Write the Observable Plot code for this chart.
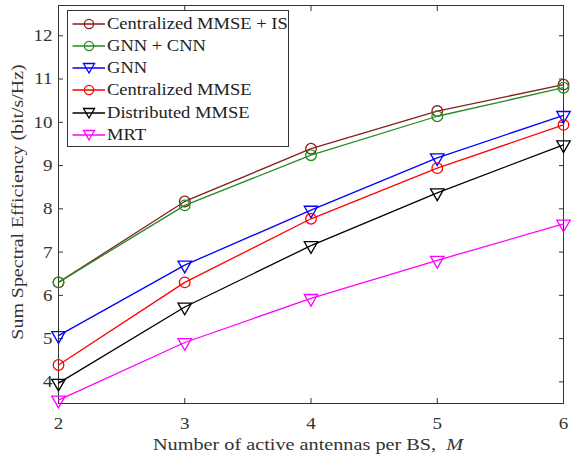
<!DOCTYPE html>
<html><head><meta charset="utf-8">
<script src="https://cdn.jsdelivr.net/npm/d3@7"></script>
<script src="https://cdn.jsdelivr.net/npm/@observablehq/plot@0.6"></script>
<style>
body{margin:0;background:#fff;font-family:"Liberation Serif","Times New Roman",serif;}
#wrap{position:relative;width:574px;height:456px;}
#legend{position:absolute;left:67px;top:10px;width:222px;height:137px;border:1px solid #333;background:#fff;box-sizing:border-box;}
.ent{position:absolute;left:0;height:22px;display:flex;align-items:center;font-size:17px;color:#222;white-space:nowrap;}
.ent span{display:inline-block;transform:scaleX(1.09);transform-origin:left center;}
.lab{position:absolute;font-size:17px;color:#333;white-space:nowrap;line-height:1;}
</style></head>
<body><div id="wrap"></div>
<script>
const antennas = [2, 3, 4, 5, 6];
const seriesNames = ["Centralized MMSE + IS", "GNN + CNN", "GNN", "Centralized MMSE", "Distributed MMSE", "MRT"];
const seriesColors = ["#851e1e", "#228b22", "#0000ff", "#ff0000", "#000000", "#ff00ff"];
const seriesSymbols = ["circle", "circle", "triangle", "circle", "triangle", "triangle"];
const mmseIS = [6.30, 8.17, 9.39, 10.26, 10.87];
const gnnCnn = [6.30, 8.08, 9.24, 10.14, 10.80];
const gnn = [5.07, 6.70, 7.97, 9.18, 10.16];
const centralMmse = [4.39, 6.30, 7.77, 8.94, 9.94];
const distMmse = [3.97, 5.73, 7.15, 8.37, 9.48];
const mrt = [3.58, 4.91, 5.93, 6.81, 7.65];
const yTicks = [4, 5, 6, 7, 8, 9, 10, 11, 12];
const xTicks = [2, 3, 4, 5, 6];

const allSeries = [mmseIS, gnnCnn, gnn, centralMmse, distMmse, mrt];
const rows = [];
allSeries.forEach((vals, si) => vals.forEach((v, i) => rows.push({series: seriesNames[si], M: antennas[i], se: v, si})));

const font = '"Liberation Serif","Times New Roman",serif';
const marks = [
  Plot.frame({stroke: "#333", strokeWidth: 1}),
  Plot.axisY(yTicks, {anchor: "left", tickSize: -5, tickPadding: 11, fontSize: 17, stroke: "#333", color: "#333", label: null, tickFormat: d => String(d)}),
  Plot.axisY(yTicks, {anchor: "right", tickSize: -5, tickFormat: () => "", stroke: "#333", label: null}),
  Plot.axisX(xTicks, {anchor: "bottom", tickSize: -5, tickPadding: 18, fontSize: 17, stroke: "#333", color: "#333", label: null, tickFormat: d => String(d)}),
  Plot.axisX(xTicks, {anchor: "top", tickSize: -5, tickFormat: () => "", stroke: "#333", label: null})
];
seriesNames.forEach((name, si) => {
  const d = rows.filter(r => r.si === si);
  marks.push(Plot.line(d, {x: "M", y: "se", stroke: seriesColors[si], strokeWidth: 1.3}));
  if (seriesSymbols[si] === "circle") {
    marks.push(Plot.dot(d, {x: "M", y: "se", r: 5.3, stroke: seriesColors[si], strokeWidth: 1.3, fill: "none"}));
  } else {
    marks.push(Plot.dot(d, {x: "M", y: "se", r: 5, symbol: "triangle", rotate: 180, stroke: seriesColors[si], strokeWidth: 1.3, fill: "none"}));
  }
});

const chart = Plot.plot({
  width: 574, height: 456,
  marginLeft: 58, marginRight: 11, marginTop: 5, marginBottom: 53,
  style: {fontFamily: font, background: "#fff"},
  x: {domain: [2, 6]},
  y: {domain: [3.5, 12.7]},
  marks
});
// widen glyphs slightly, keeping each text's anchor point fixed
chart.querySelectorAll("text").forEach(t => {
  const ax = parseFloat(t.getAttribute("x")) || 0;
  const prev = t.getAttribute("transform") || "";
  t.setAttribute("transform", `${prev} translate(${ax},0) scale(1.12,1) translate(${-ax},0)`.trim());
});
const wrap = document.getElementById("wrap");
wrap.appendChild(chart);

// axis titles
const xl = document.createElement("div");
xl.className = "lab";
xl.innerHTML = 'Number of active antennas per BS,&nbsp; <i>M</i>';
xl.style.left = "308px"; xl.style.top = "436px";
xl.style.transform = "translateX(-50%) scaleX(1.19)";
wrap.appendChild(xl);
const yl = document.createElement("div");
yl.className = "lab";
yl.textContent = "Sum Spectral Efficiency (bit/s/Hz)";
yl.style.left = "17px"; yl.style.top = "202px";
yl.style.transform = "translate(-50%,-50%) rotate(-90deg) scaleX(1.17)";
wrap.appendChild(yl);

// legend
const lg = document.createElement("div");
lg.id = "legend";
seriesNames.forEach((name, si) => {
  const e = document.createElement("div");
  e.className = "ent";
  e.style.top = (1.5 + si * 22.3) + "px";
  const c = seriesColors[si];
  const sym = seriesSymbols[si] === "circle"
    ? `<circle cx="21" cy="11" r="4.6" fill="none" stroke="${c}" stroke-width="1.3"/>`
    : `<path d="M15.5,6.5 L26.5,6.5 L21,16 Z" fill="none" stroke="${c}" stroke-width="1.3"/>`;
  e.innerHTML = `<svg width="39" height="22"><line x1="4.5" x2="37" y1="11" y2="11" stroke="${c}" stroke-width="1.3"/>${sym}</svg><span>${name}</span>`;
  lg.appendChild(e);
});
wrap.appendChild(lg);
</script></body></html>
